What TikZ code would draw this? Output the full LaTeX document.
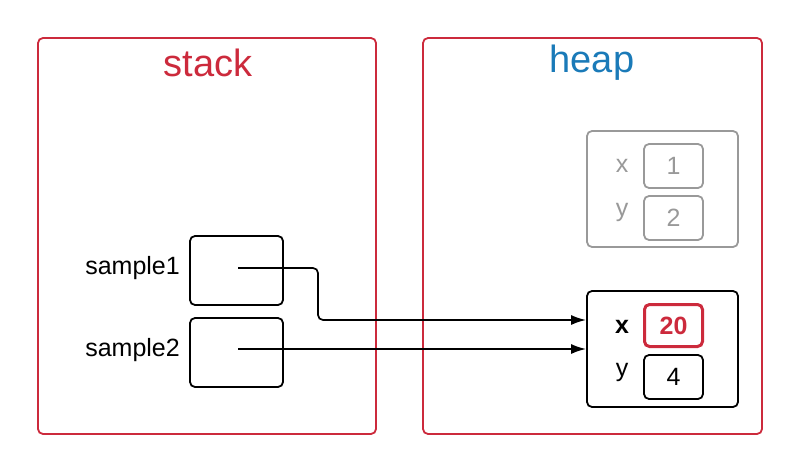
\documentclass[tikz,border=0pt]{standalone}
\usepackage{fontspec}
\setmainfont{Liberation Sans}
\definecolor{cred}{HTML}{CC2A3C}
\definecolor{cblue}{HTML}{1A7AB8}
\definecolor{cgray}{HTML}{999999}
\tikzset{
  region/.style={draw=cred, line width=1.8pt, rounded corners=5pt, inner sep=0pt},
  title/.style={font=\fontsize{38}{42}\selectfont},
  cell/.style={draw, line width=1.8pt, rounded corners=5pt, inner sep=0pt},
  lbl/.style={font=\fontsize{25}{29}\selectfont, inner sep=0pt},
  arr/.style={line width=1.7pt, -{Latex[length=15pt,width=10pt]}, rounded corners=5pt}
}
\usetikzlibrary{arrows.meta}
\begin{document}
\begin{tikzpicture}[x=1pt,y=-1pt]
\useasboundingbox (0,0) rectangle (800,473);
% regions
\node[region, minimum width=338pt, minimum height=396pt] (stack) at (207,236) {};
\node[region, minimum width=339pt, minimum height=396pt] (heap) at (592.5,236) {};
\node[title, text=cred] (stackt) at (208,63) {stack};
\node[title, text=cblue] (heapt) at (592,63) {heap};
% gray object
\node[cell, draw=cgray, minimum width=151pt, minimum height=116pt] (gobj) at (662.5,189) {};
\node[cell, draw=cgray, minimum width=59pt, minimum height=44pt, lbl, text=cgray] (g1) at (673.5,166) {1};
\node[cell, draw=cgray, minimum width=59pt, minimum height=44pt, lbl, text=cgray] (g2) at (673.5,218) {2};
\node[lbl, text=cgray] (gx) at (622,166) {x};
\node[lbl, text=cgray] (gy) at (622,212) {y};
% black object
\node[cell, minimum width=151pt, minimum height=116pt] (obj) at (662.5,349) {};
\node[cell, draw=cred, line width=3pt, minimum width=58pt, minimum height=42pt, lbl, text=cred, font=\fontsize{25}{29}\selectfont\bfseries] (o1) at (673.5,325.5) {20};
\node[cell, minimum width=59pt, minimum height=44pt, lbl] (o2) at (673.5,377) {4};
\node[lbl, font=\fontsize{25}{29}\selectfont\bfseries] (ox) at (622,327) {x};
\node[lbl] (oy) at (622,372) {y};
% stack variables
\node[cell, minimum width=93pt, minimum height=69pt] (s1) at (236.5,270.5) {};
\node[cell, minimum width=93pt, minimum height=69pt] (s2) at (236.5,352.5) {};
\node[lbl, anchor=east] (s1l) at (180,268) {sample1};
\node[lbl, anchor=east] (s2l) at (180,350) {sample2};
\coordinate (p1) at (238,268);
\coordinate (p2) at (238,349);
\coordinate (t1) at (obj.west |- 0,320);
\coordinate (t2) at (obj.west |- 0,349);
\draw[arr] (p1) -- (318,268) -- (318,320) -- (t1);
\draw[arr] (p2) -- (t2);
\end{tikzpicture}
\end{document}
